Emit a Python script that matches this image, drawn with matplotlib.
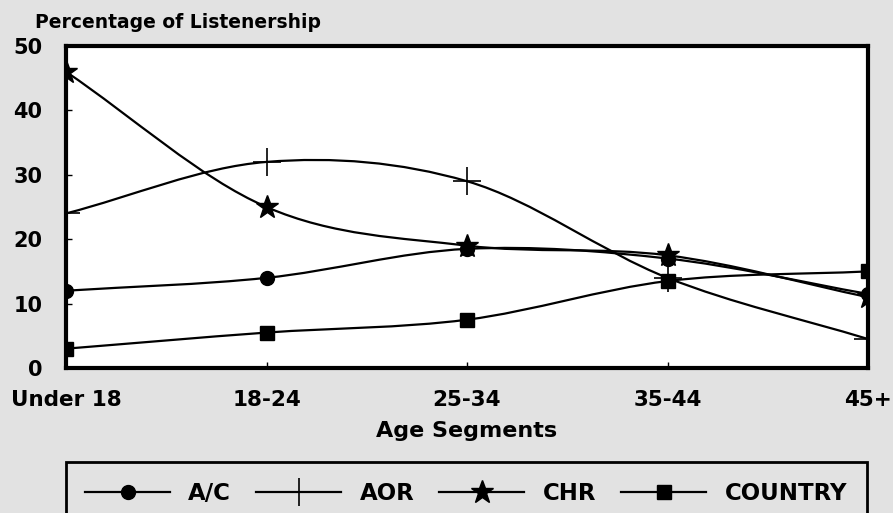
import matplotlib
matplotlib.use("Agg")
import matplotlib.pyplot as plt
import numpy as np
from matplotlib.path import Path
from matplotlib.patches import PathPatch, Rectangle
from matplotlib.lines import Line2D

plt.rcParams['font.family'] = ['DejaVu Sans']

# data
ages = ["Under 18", "18-24", "25-34", "35-44", "45+"]
ac = [12, 14, 18.5, 17, 11.5]
aor = [24, 32, 29, 14, 4.5]
chr_ = [46, 25, 19, 17.5, 11]
country = [3, 5.5, 7.5, 13.5, 15]


def smooth_path(xs, ys):
    # catmull-rom through the points, drawn as cubic bezier segments
    p = np.column_stack([xs, ys]).astype(float)
    n = len(p)
    m = np.zeros_like(p)
    for i in range(n):
        lo, hi = max(i - 1, 0), min(i + 1, n - 1)
        m[i] = (p[hi] - p[lo]) / (hi - lo)
    verts = [p[0]]
    codes = [Path.MOVETO]
    for i in range(n - 1):
        verts += [p[i] + m[i] / 3, p[i + 1] - m[i + 1] / 3, p[i + 1]]
        codes += [Path.CURVE4] * 3
    return Path(verts, codes)


fig = plt.figure(figsize=(8.93, 5.13), dpi=100)
fig.patch.set_facecolor('#e2e2e2')
ax = fig.add_axes([66 / 893, 1 - 368 / 513, 802 / 893, 322 / 513])
ax.set_facecolor('white')

x = np.arange(len(ages))
series = [
    ("A/C", ac, dict(marker='o', ms=10)),
    ("AOR", aor, dict(marker='+', ms=20, mew=1.2)),
    ("CHR", chr_, dict(marker='*', ms=17)),
    ("COUNTRY", country, dict(marker='s', ms=10)),
]

handles = []
for name, vals, mk in series:
    ax.add_patch(PathPatch(smooth_path(x, vals), fill=False, edgecolor='black', lw=1.6))
    ax.plot(x, vals, linestyle='none', color='black', **mk)
    handles.append(Line2D([], [], color='black', lw=1.6, label=name, **mk))

ax.set_xlim(0, 4)
ax.set_ylim(0, 50)
ax.set_xticks(x)
ax.set_xticklabels(ages, fontsize=15.5, fontweight='bold')
ax.set_yticks([0, 10, 20, 30, 40, 50])
ax.set_yticklabels(["0", "10", "20", "30", "40", "50"], fontsize=15, fontweight='bold')
ax.tick_params(axis='y', direction='in', length=4, width=1, pad=17)
ax.tick_params(axis='x', direction='in', length=4, width=1, pad=16)
for s in ax.spines.values():
    s.set_linewidth(3)

ax.set_xlabel("Age Segments", fontsize=16, fontweight='bold', labelpad=8)
fig.text(35 / 893, 1 - 22 / 513, "Percentage of Listenership", fontsize=13.5,
         fontweight='bold', ha='left', va='center')

# legend box runs off the bottom of the page
fig.patches.append(Rectangle((66 / 893, -0.05), 801 / 893, (513 - 462) / 513 + 0.05,
                             transform=fig.transFigure, fill=False,
                             edgecolor='black', lw=2))
fig.legend(handles=handles, ncol=4, loc='center', frameon=False,
           bbox_to_anchor=(466 / 893, 1 - 494 / 513), bbox_transform=fig.transFigure,
           handlelength=3.7, handletextpad=0.8, columnspacing=1.1,
           prop={'weight': 'bold', 'size': 16.5})

fig.savefig("out.png", dpi=100, facecolor=fig.get_facecolor())
